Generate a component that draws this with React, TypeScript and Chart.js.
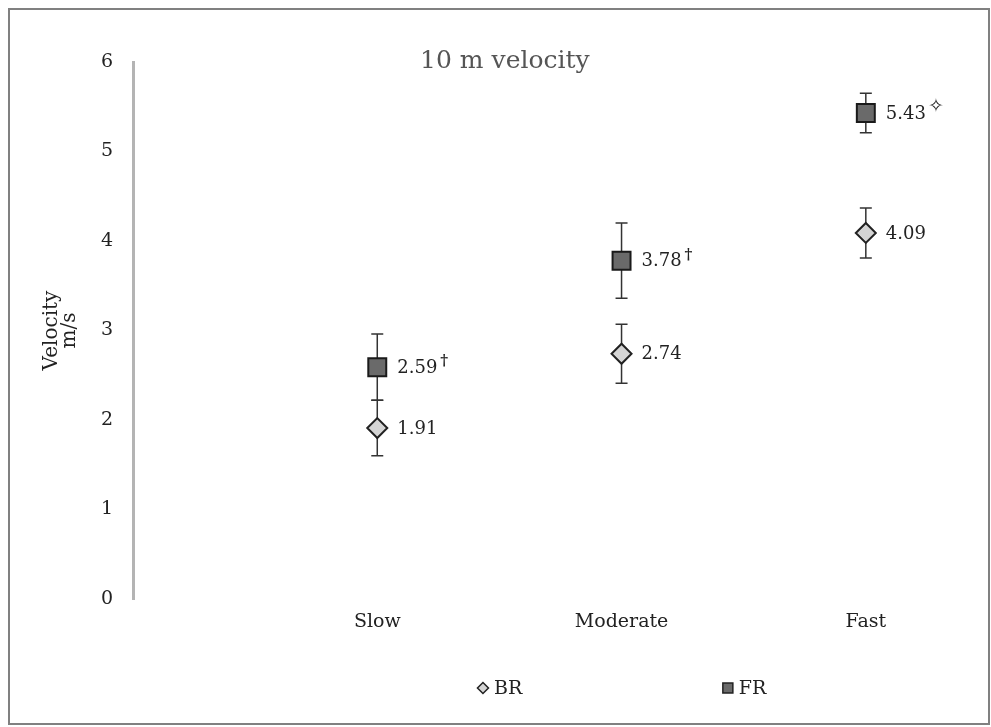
import React, { useEffect, useRef } from 'react';
import { Chart, registerables } from 'chart.js';

Chart.register(...registerables);

const categories = ['Slow', 'Moderate', 'Fast'];
const brMeans = [1.91, 2.74, 4.09];
const brSD = [0.31, 0.33, 0.28];
const frMeans = [2.59, 3.78, 5.43];
const frSD = [0.37, 0.42, 0.22];
const brMarks = ['', '', ''];
const frMarks = ['†', '†', '✧'];
const seriesNames = ['BR', 'FR'];
const chartTitle = '10 m velocity';
const yTitle = ['Velocity', 'm/s'];

const SERIF = '"DejaVu Serif", serif';

const errorBarPlugin = {
  id: 'errorBars',
  beforeDatasetsDraw(chart: any) {
    const { ctx } = chart;
    const x = chart.scales.x;
    const y = chart.scales.y;
    chart.data.datasets.forEach((ds: any) => {
      ds.data.forEach((pt: any, i: number) => {
        const sd = ds.errors[i];
        const px = x.getPixelForValue(pt.x);
        const top = y.getPixelForValue(pt.y + sd);
        const bot = y.getPixelForValue(pt.y - sd);
        ctx.save();
        ctx.strokeStyle = '#333';
        ctx.lineWidth = 1.5;
        ctx.beginPath();
        ctx.moveTo(px, top);
        ctx.lineTo(px, bot);
        ctx.moveTo(px - 6, top);
        ctx.lineTo(px + 6, top);
        ctx.moveTo(px - 6, bot);
        ctx.lineTo(px + 6, bot);
        ctx.stroke();
        ctx.restore();
      });
    });
  },
};

const valueLabelPlugin = {
  id: 'valueLabels',
  afterDatasetsDraw(chart: any) {
    const { ctx } = chart;
    const x = chart.scales.x;
    const y = chart.scales.y;
    chart.data.datasets.forEach((ds: any) => {
      ds.data.forEach((pt: any, i: number) => {
        const px = x.getPixelForValue(pt.x);
        const py = y.getPixelForValue(pt.y);
        const txt = pt.y.toFixed(2);
        ctx.save();
        ctx.font = '18px ' + SERIF;
        ctx.fillStyle = '#222';
        ctx.textAlign = 'left';
        ctx.textBaseline = 'middle';
        const tx = px + 20;
        ctx.fillText(txt, tx, py + 1);
        const w = ctx.measureText(txt).width;
        const mark = ds.marks[i];
        if (mark === '†') {
          ctx.font = 'bold 15px ' + SERIF;
          ctx.fillText(mark, tx + w + 3, py - 6);
        } else if (mark) {
          ctx.font = '19px "DejaVu Sans", sans-serif';
          ctx.fillText(mark, tx + w + 2, py - 6);
        }
        ctx.restore();
      });
    });
  },
};

const titleLegendPlugin = {
  id: 'titleLegend',
  afterDraw(chart: any) {
    const { ctx } = chart;
    const W = chart.width;
    ctx.save();
    ctx.font = '25px ' + SERIF;
    ctx.fillStyle = '#555';
    ctx.textAlign = 'center';
    ctx.textBaseline = 'middle';
    ctx.fillText(chartTitle, W * 0.506, 51);

    const ly = 678;
    const positions = [W * 0.4836, W * 0.734];
    chart.data.datasets.forEach((ds: any, i: number) => {
      const cx = positions[i];
      ctx.lineWidth = 1.5;
      ctx.strokeStyle = '#222';
      ctx.fillStyle = ds.pointBackgroundColor;
      ctx.beginPath();
      if (ds.pointStyle === 'rectRot') {
        ctx.moveTo(cx, ly - 5.5);
        ctx.lineTo(cx + 5.5, ly);
        ctx.lineTo(cx, ly + 5.5);
        ctx.lineTo(cx - 5.5, ly);
        ctx.closePath();
      } else {
        ctx.rect(cx - 5, ly - 5, 10, 10);
      }
      ctx.fill();
      ctx.stroke();
      ctx.font = '19px ' + SERIF;
      ctx.fillStyle = '#222';
      ctx.textAlign = 'left';
      ctx.textBaseline = 'middle';
      ctx.fillText(seriesNames[i], cx + 11, ly + 1);
    });
    ctx.restore();
  },
};

export default function App() {
  const canvasRef = useRef<HTMLCanvasElement | null>(null);

  useEffect(() => {
    if (!canvasRef.current) return;
    const chart = new Chart(canvasRef.current, {
      type: 'scatter',
      data: {
        datasets: [
          {
            label: seriesNames[0],
            data: brMeans.map((v, i) => ({ x: i + 1, y: v })),
            errors: brSD,
            marks: brMarks,
            pointStyle: 'rectRot',
            pointRadius: 10,
            pointHoverRadius: 10,
            pointBackgroundColor: '#d4d4d4',
            pointBorderColor: '#222',
            pointBorderWidth: 2,
            showLine: false,
          } as any,
          {
            label: seriesNames[1],
            data: frMeans.map((v, i) => ({ x: i + 1, y: v })),
            errors: frSD,
            marks: frMarks,
            pointStyle: 'rect',
            pointRadius: 12.7,
            pointHoverRadius: 12.7,
            pointBackgroundColor: '#6a6a6a',
            pointBorderColor: '#1a1a1a',
            pointBorderWidth: 2,
            showLine: false,
          } as any,
        ],
      },
      options: {
        animation: false,
        responsive: false,
        events: [],
        layout: { padding: { top: 52, bottom: 84, left: 0, right: 10 } },
        plugins: {
          legend: { display: false },
          tooltip: { enabled: false },
          title: { display: false },
        },
        scales: {
          x: {
            type: 'linear',
            min: 0,
            max: 3.44,
            afterBuildTicks: (scale: any) => {
              scale.ticks = categories.map((_, i) => ({ value: i + 1 }));
            },
            afterFit: (scale: any) => {
              scale.height = 40;
            },
            ticks: {
              callback: (v: any) => categories[Number(v) - 1] ?? '',
              font: { family: SERIF, size: 19 },
              color: '#222',
              padding: 12,
              maxRotation: 0,
              autoSkip: false,
            },
            grid: { display: false, drawTicks: false },
            border: { display: false },
          },
          y: {
            min: 0,
            max: 6,
            afterFit: (scale: any) => {
              scale.width = 123;
            },
            ticks: {
              stepSize: 1,
              font: { family: SERIF, size: 19 },
              color: '#222',
              padding: 20,
            },
            grid: { display: false, drawTicks: false },
            border: { display: true, color: '#b4b4b4', width: 3 },
            title: {
              display: true,
              text: yTitle,
              font: { family: SERIF, size: 20, lineHeight: 0.9 },
              color: '#222',
              padding: { top: 33, bottom: 0 },
            },
          },
        },
      } as any,
      plugins: [errorBarPlugin, valueLabelPlugin, titleLegendPlugin],
    });
    return () => chart.destroy();
  }, []);

  return (
    <div
      style={{
        position: 'fixed',
        left: 8,
        top: 8,
        width: 982,
        height: 717,
        boxSizing: 'border-box',
        border: '2px solid #808080',
        background: '#ffffff',
      }}
    >
      <canvas ref={canvasRef} width={978} height={713} style={{ display: 'block', width: 978, height: 713 }} />
    </div>
  );
}
